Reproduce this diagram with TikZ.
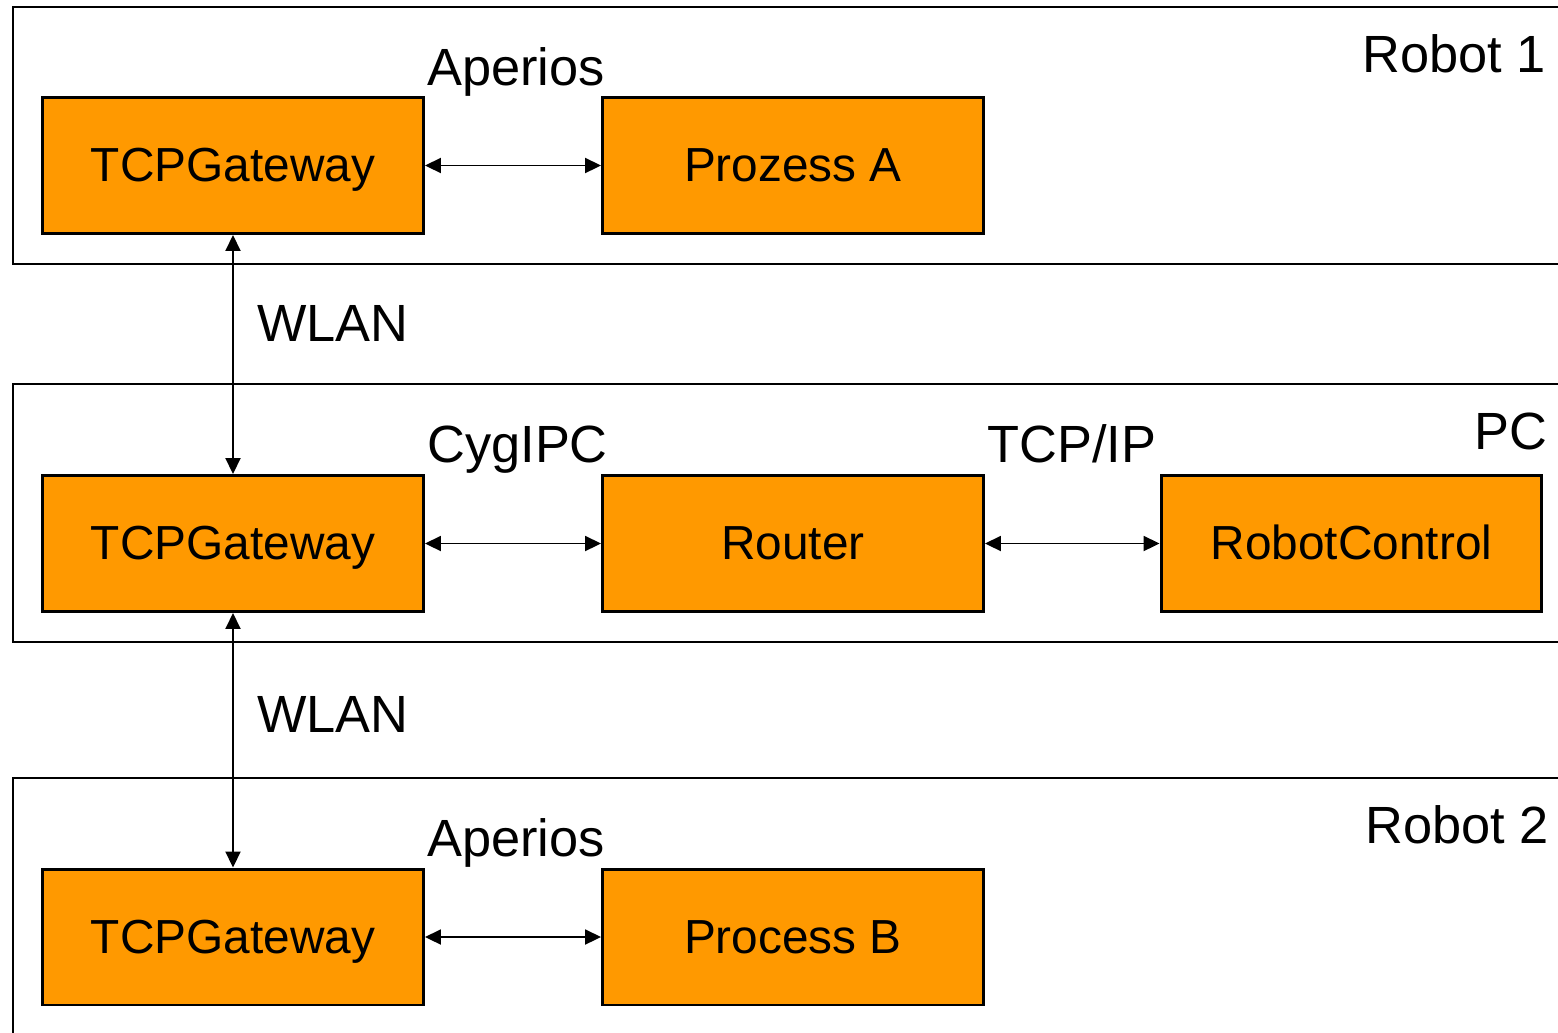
\documentclass[tikz,border=0pt]{standalone}
\usepackage{fontspec}
\setmainfont{Liberation Sans}
\usetikzlibrary{arrows.meta}
\definecolor{procorange}{RGB}{255,153,0}
\tikzset{
  frame/.style={draw=black, line width=1.1pt},
  proc/.style={draw=black, line width=1.7pt, fill=procorange, minimum width=7.62cm,
    minimum height=2.72cm, inner sep=0pt, text height=19.5pt, text depth=1pt,
    font=\fontsize{27.2}{32}\selectfont},
  lbl/.style={inner sep=0pt, font=\fontsize{29.8}{34}\selectfont},
  link/.style={line width=1.1pt, {Triangle[length=0.32cm,width=0.3cm]}-{Triangle[length=0.32cm,width=0.3cm]}}
}
\begin{document}
\begin{tikzpicture}[x=0.02cm, y=-0.02cm]
			%%%%% START %%%%%
			\useasboundingbox (0,0) rectangle (1558,1032);
			\clip (0,0) rectangle (1558,1032);
			
			% the three frames, open to the right
			\draw[frame] (13,7) rectangle (1580,264);
			\draw[frame] (13,384) rectangle (1580,642);
			\draw[frame] (13,778) rectangle (1580,1060);
			
			\node[lbl, anchor=base east] (robA) at (1546,72) {Robot 1};
			\node[lbl, anchor=base east] (pc) at (1548,449) {PC};
			\node[lbl, anchor=base east] (robB) at (1549,843) {Robot 2};
			
			% robot 1
			\node[proc] (gwA) at (233,165.5) {TCPGateway};
			\node[proc] (procA) at (793,165.5) {Prozess A};
			\node[lbl, anchor=base west] (osA) at (427,85) {Aperios};
			
			% pc
			\node[proc] (gwPC) at (233,543.5) {TCPGateway};
			\node[proc] (router) at (793,543.5) {Router};
			\node[proc] (ctrl) at (1351.5,543.5) {RobotControl};
			\node[lbl, anchor=base west] (cyg) at (427,462) {CygIPC};
			\node[lbl, anchor=base west] (tcp) at (987,462) {TCP/IP};
			
			% robot 2
			\node[proc] (gwB) at (233,937) {TCPGateway};
			\node[proc] (procB) at (793,937) {Process B};
			\node[lbl, anchor=base west] (osB) at (427,856) {Aperios};
			
			\node[lbl, anchor=base west] (wlanA) at (257,341) {WLAN};
			\node[lbl, anchor=base west] (wlanB) at (257,732) {WLAN};
			
			\draw[link] (gwA.east) -- (procA.west);
			\draw[link] (gwPC.east) -- (router.west);
			\draw[link] (router.east) -- (ctrl.west);
			\draw[link] (gwB.east) -- (procB.west);
			\draw[link] (gwA.south) -- (gwPC.north);
			\draw[link] (gwPC.south) -- (gwB.north);
			
			%%%%% END %%%%%
\end{tikzpicture}
\end{document}
